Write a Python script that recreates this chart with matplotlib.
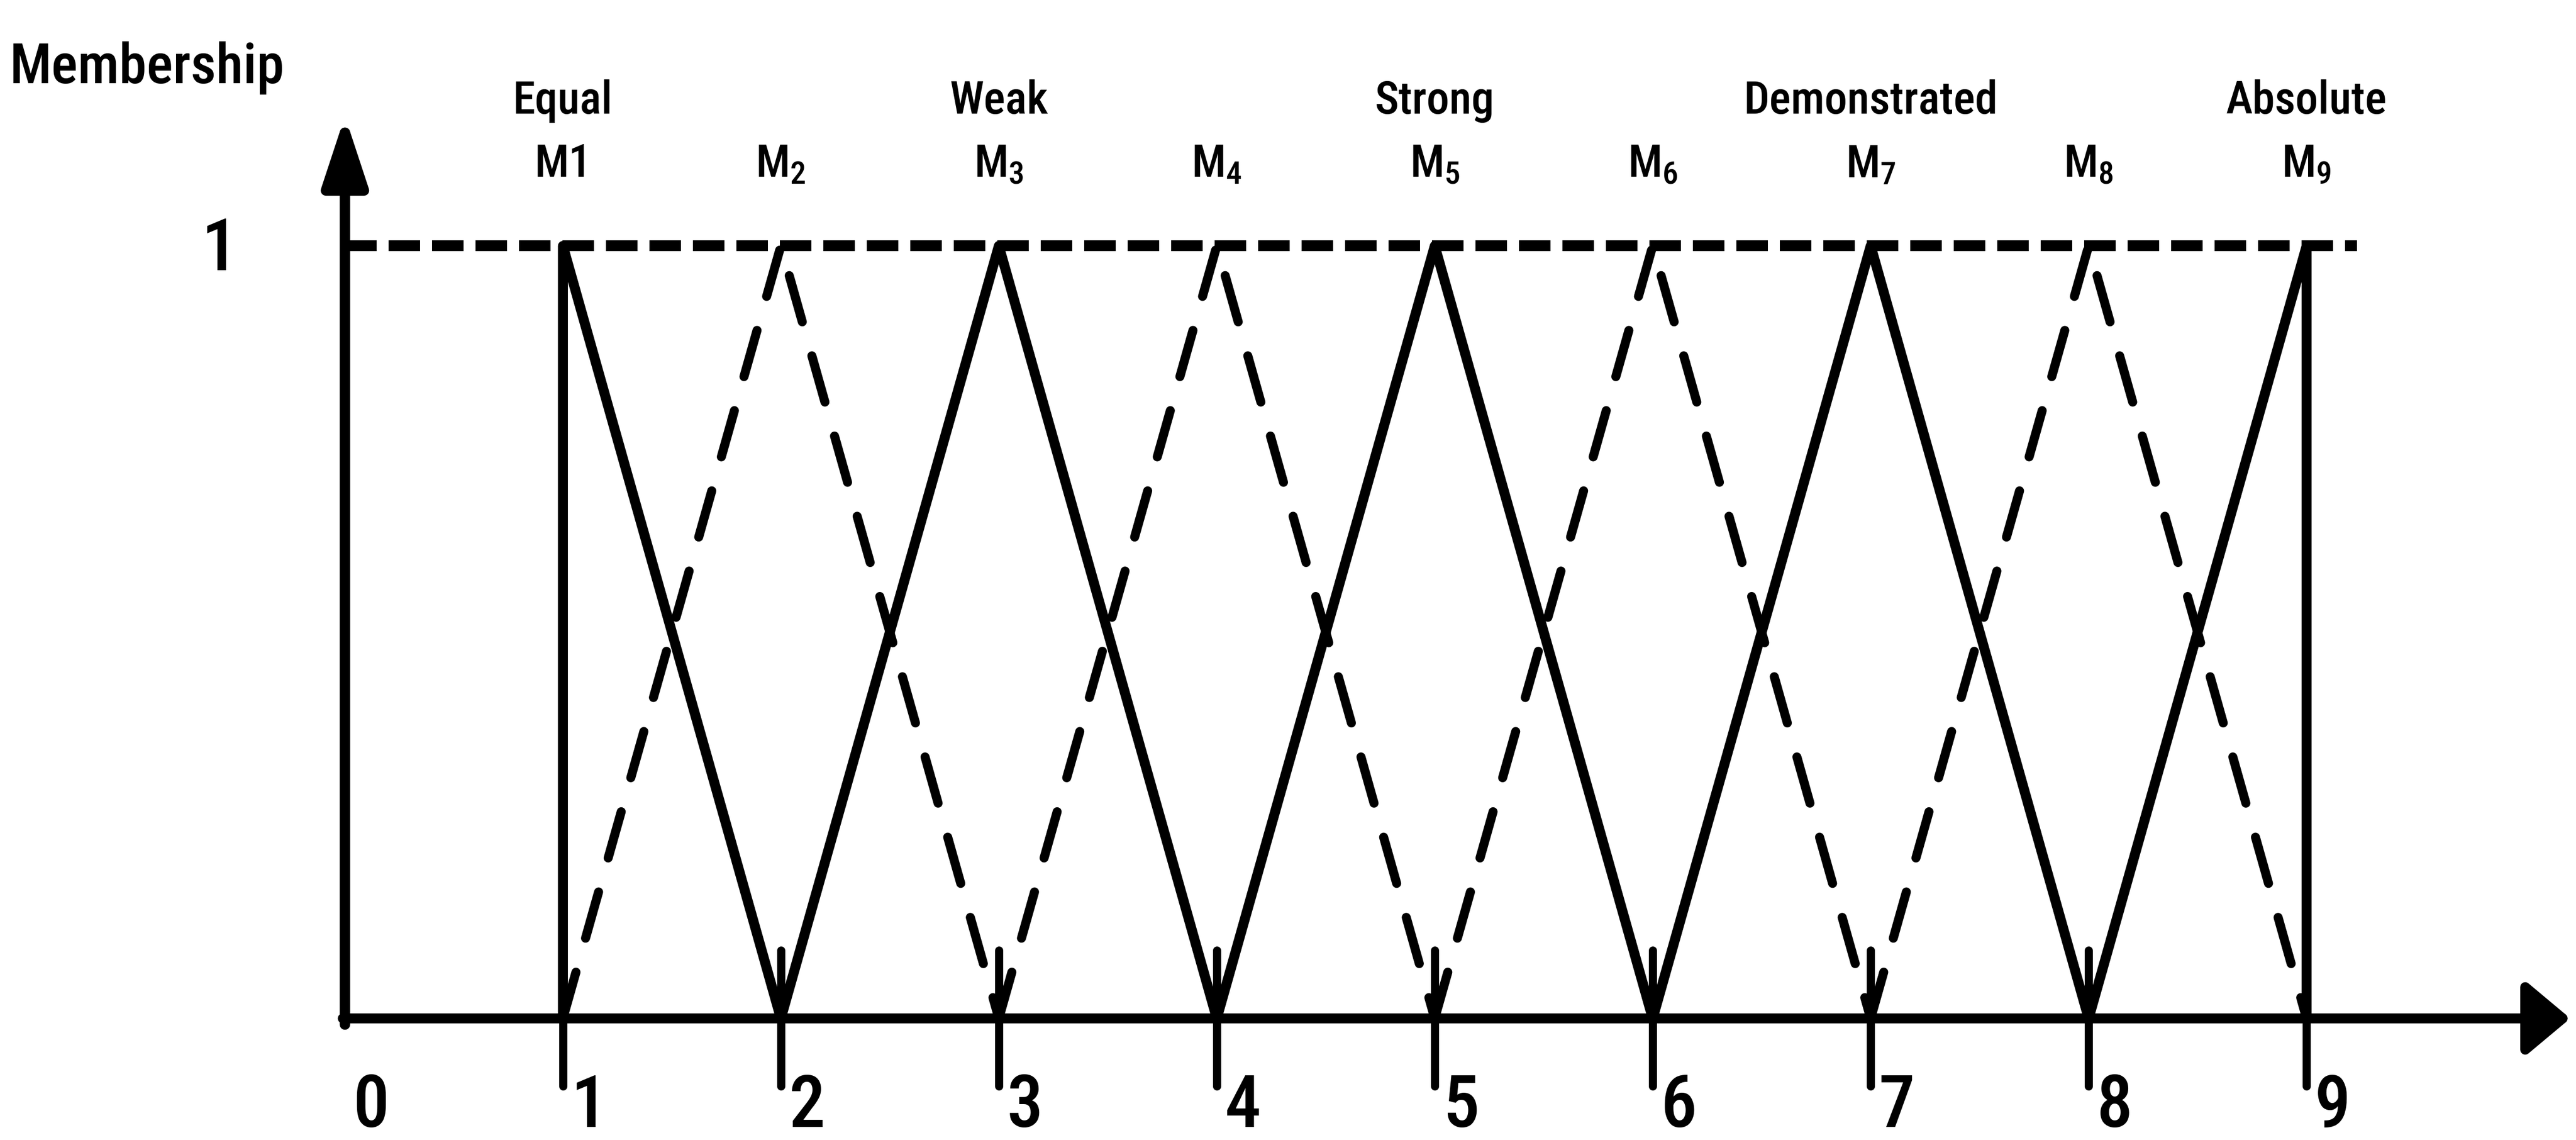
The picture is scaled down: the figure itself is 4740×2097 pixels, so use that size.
import matplotlib
matplotlib.use("Agg")
import matplotlib.pyplot as plt
from matplotlib import font_manager

# --- data -------------------------------------------------------------
x_ticks = [0, 1, 2, 3, 4, 5, 6, 7, 8, 9]
peaks = [1, 2, 3, 4, 5, 6, 7, 8, 9]
lefts = [1, 1, 2, 3, 4, 5, 6, 7, 8]
rights = [2, 3, 4, 5, 6, 7, 8, 9, 9]
m_labels = ["M1", "M$_2$", "M$_3$", "M$_4$", "M$_5$", "M$_6$", "M$_7$", "M$_8$", "M$_9$"]
categories = ["Equal", "", "Weak", "", "Strong", "", "Demonstrated", "", "Absolute"]
dashed = [False, True, False, True, False, True, False, True, False]

# narrow sans looks closest to the scanned figure; fall back to Liberation Sans
names = {f.name for f in font_manager.fontManager.ttflist}
narrow = [n for n in ["Roboto Condensed", "Liberation Sans Narrow", "Archivo Narrow",
                      "PT Sans Narrow", "Barlow Semi Condensed"] if n in names]
if narrow:
    FONT = narrow[0]
    fs_big, fs_lab, fs_tick = 24.5, 20, 32
else:
    FONT = "Liberation Sans"
    fs_big, fs_lab, fs_tick = 22, 17, 30

plt.rcParams["font.family"] = [FONT, "DejaVu Sans"]
plt.rcParams["font.weight"] = "medium"
plt.rcParams["mathtext.fontset"] = "custom"
plt.rcParams["mathtext.rm"] = FONT + ":medium"
plt.rcParams["mathtext.it"] = FONT + ":medium"
plt.rcParams["mathtext.default"] = "rm"


def draw_membership():
    fig = plt.figure(figsize=(15.8, 6.9933), dpi=300)
    ax = fig.add_axes([0, 0, 1, 1])
    ax.set_xlim(-1.5826, 10.236)
    ax.set_ylim(-0.1574, 1.319)
    ax.axis("off")

    # axes with arrow heads
    ax.annotate("", xy=(0, 1.168), xytext=(0, -0.008),
                arrowprops=dict(arrowstyle="-|>,head_length=0.85,head_width=0.28",
                                lw=4.6, color="black", shrinkA=0, shrinkB=0,
                                mutation_scale=30, joinstyle="round", capstyle="round"))
    ax.annotate("", xy=(10.21, 0), xytext=(-0.01, 0),
                arrowprops=dict(arrowstyle="-|>,head_length=0.55,head_width=0.46",
                                lw=4.4, color="black", shrinkA=0, shrinkB=0,
                                mutation_scale=30, joinstyle="round", capstyle="round"))

    # level 1 guide
    ax.plot([0, 9.23], [1, 1], color="black", lw=4.8, dashes=(2.9, 1.1))

    # triangular membership functions
    for i in range(len(peaks)):
        xs = [lefts[i], peaks[i], rights[i]]
        ys = [0, 1, 0]
        if dashed[i]:
            ax.plot(xs, ys, color="black", lw=4.0, dashes=(5.3, 3.9),
                    dash_capstyle="round")
        else:
            ax.plot(xs, ys, color="black", lw=4.4, solid_capstyle="round")

    # ticks crossing the x axis
    for t in x_ticks[1:]:
        ax.plot([t, t], [-0.088, 0.088], color="black", lw=3.6, solid_capstyle="round")

    for t in x_ticks:
        ax.text(t + 0.12, -0.14, str(t), fontsize=fs_tick, ha="center", va="baseline")

    ax.text(-0.575, 0.969, "1", fontsize=fs_tick, ha="center", va="baseline")
    ax.text(-0.91, 1.211, "Membership", fontsize=fs_big, ha="center", va="baseline")

    for i in range(len(peaks)):
        ax.text(peaks[i], 1.09, m_labels[i], fontsize=fs_lab, ha="center", va="baseline")
        if categories[i]:
            ax.text(peaks[i], 1.172, categories[i], fontsize=fs_lab, ha="center", va="baseline")

    plt.savefig("out.png", dpi=300, facecolor="white")


if __name__ == "__main__":
    draw_membership()
